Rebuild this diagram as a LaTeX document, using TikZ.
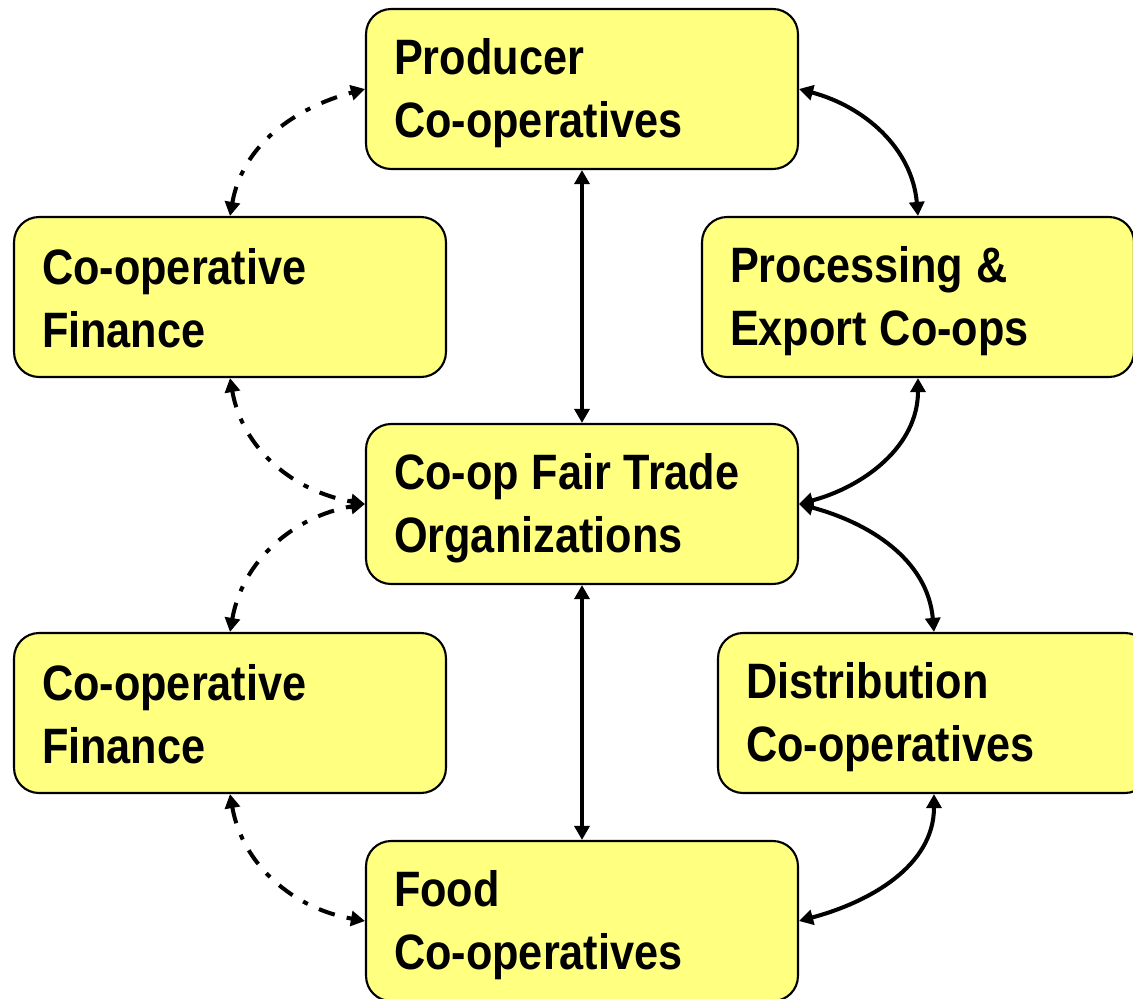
\documentclass[tikz,border=0pt]{standalone}
\usepackage{fontspec}
\setmainfont{Liberation Sans}[FakeStretch=0.87]
\usetikzlibrary{arrows.meta}
\definecolor{boxfill}{RGB}{255,255,128}
\newcommand\tstrut{\rule[-0.15cm]{0pt}{1.05cm}}
\newcommand\ws{\hspace{7.3pt}}
\newcommand\boxfont{\fontsize{28.3pt}{35.7pt}\selectfont\bfseries}
\begin{document}
\begin{tikzpicture}[x=0.02cm,y=-0.02cm,
  box/.style={draw=black, line width=1.2pt, fill=boxfill, rounded corners=0.5cm,
    minimum width=8.64cm, minimum height=3.2cm, text width=7.52cm, inner xsep=0.56cm,
    inner ysep=0pt, align=left, font=\boxfont},
  link/.style={line width=2.3pt, {Triangle[length=8pt,width=8.5pt]}-{Triangle[length=8pt,width=8.5pt]}},
  dlink/.style={link, dash pattern=on 9.5pt off 7pt on 3pt off 7pt}]
\useasboundingbox (0,0) rectangle (1133,998);
\node[box] (prod) at (582,89) {\tstrut Producer\\\tstrut Co-operatives};
\node[box] (fin1) at (230,297) {\tstrut Co-operative\\\tstrut Finance};
\node[box] (proc) at (918,297) {\tstrut Processing\ws\&\\\tstrut Export\ws Co-ops};
\node[box] (fair) at (582,504) {\tstrut Co-op\ws Fair\ws Trade\\\tstrut Organizations};
\node[box] (fin2) at (230,713) {\tstrut Co-operative\\\tstrut Finance};
\node[box] (dist) at (934,713) {\tstrut Distribution\\\tstrut Co-operatives};
\node[box] (food) at (582,921) {\tstrut Food\\\tstrut Co-operatives};

\draw[link] (prod) -- (fair);
\draw[link] (fair) -- (food);
\draw[link] (prod.east) to[out=-15,in=95] (proc.north);
\draw[link] (fair.east) to[out=15,in=-90] (proc.south);
\draw[link] (fair.east) to[out=-15,in=95] (dist.north);
\draw[link] (food.east) to[out=15,in=-90] (dist.south);
\draw[dlink] (fin1.north) to[out=80,in=195] (prod.west);
\draw[dlink] (fin1.south) to[out=-80,in=170] (fair.west);
\draw[dlink] (fin2.north) to[out=80,in=190] (fair.west);
\draw[dlink] (fin2.south) to[out=-80,in=170] (food.west);
\end{tikzpicture}
\end{document}
